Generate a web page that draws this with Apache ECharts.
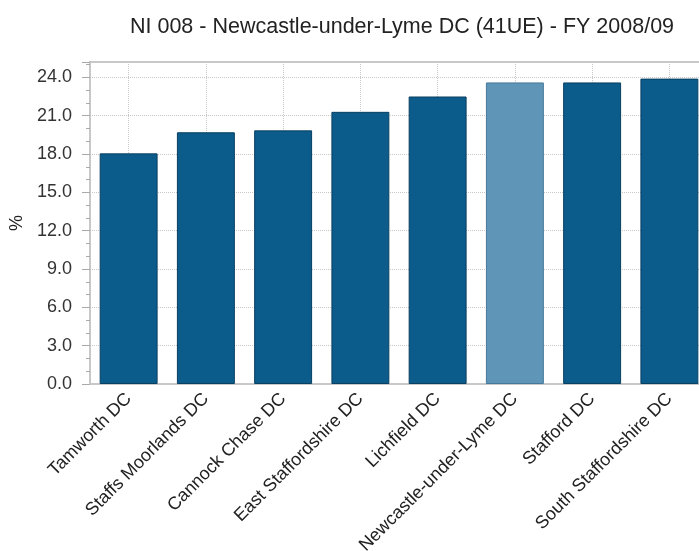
<!DOCTYPE html>
<html>
<head>
<meta charset="utf-8">
<script src="https://cdn.jsdelivr.net/npm/echarts@6/dist/echarts.min.js"></script>
<style>
  html, body { margin: 0; padding: 0; background: #fff; }
  #chart { width: 699px; height: 551px; }
</style>
</head>
<body>
<div id="chart"></div>
<script>
// data
var titleText = 'NI 008 - Newcastle-under-Lyme DC (41UE) - FY 2008/09';
var districts = ['Tamworth DC', 'Staffs Moorlands DC', 'Cannock Chase DC', 'East Staffordshire DC',
  'Lichfield DC', 'Newcastle-under-Lyme DC', 'Stafford DC', 'South Staffordshire DC'];
var values = [18.05, 19.7, 19.85, 21.3, 22.5, 23.6, 23.6, 23.9];
var highlight = 'Newcastle-under-Lyme DC';

var dark = '#0b5b8b', light = '#5f96b7';

var chart = echarts.init(document.getElementById('chart'));
chart.setOption({
  animation: false,
  title: {
    text: titleText,
    left: 397, top: 11, textAlign: 'center',
    textStyle: { fontFamily: 'Liberation Sans', fontSize: 21.5, fontWeight: 'normal', color: '#222' }
  },
  grid: {
    left: 90, top: 62, right: -9, bottom: 167, outerBoundsMode: 'none',
    show: true, borderColor: '#c8c8c8', borderWidth: 2
  },
  xAxis: {
    type: 'category',
    data: districts,
    axisLine: { lineStyle: { color: '#c8c8c8', width: 2 } },
    axisTick: { alignWithLabel: true, length: 14, lineStyle: { color: '#bbb', type: 'dotted' } },
    splitLine: { show: true, alignWithLabel: true, lineStyle: { color: '#c8c8c8', type: 'dotted' } },
    axisLabel: { rotate: 45, margin: 12, interval: 0, fontFamily: 'Liberation Sans', fontSize: 18, color: '#222' }
  },
  yAxis: {
    type: 'value',
    min: 0, max: 25.2, interval: 3,
    name: '%', nameLocation: 'middle', nameRotate: 90, nameGap: 64,
    nameTextStyle: { fontFamily: 'Liberation Sans', fontSize: 18, color: '#222' },
    axisLine: { show: true, lineStyle: { color: '#c8c8c8', width: 2 } },
    axisTick: { show: true, length: 8, lineStyle: { color: '#aaa' } },
    minorTick: { show: true, splitNumber: 3, length: 4, lineStyle: { color: '#aaa' } },
    splitLine: { lineStyle: { color: '#c8c8c8', type: 'dotted' } },
    axisLabel: {
      showMaxLabel: false, margin: 18,
      fontFamily: 'Liberation Sans', fontSize: 18, color: '#333',
      formatter: function (v) { return v.toFixed(1); }
    }
  },
  series: [{
    type: 'bar',
    barCategoryGap: '25%',
    data: values.map(function (v, i) {
      var hi = districts[i] === highlight;
      return {
        value: v,
        itemStyle: { color: hi ? light : dark, borderColor: hi ? '#45789a' : '#083f62', borderWidth: 1 }
      };
    })
  }]
});
</script>
</body>
</html>
